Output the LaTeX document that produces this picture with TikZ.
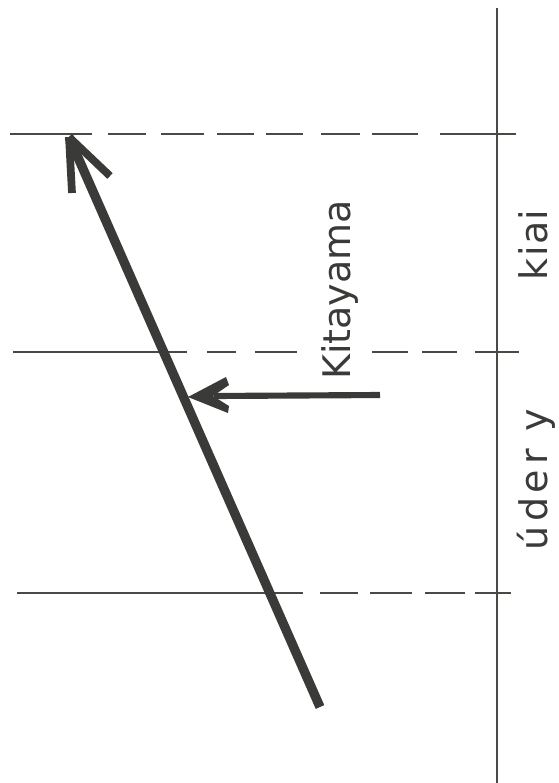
\documentclass[tikz,border=0pt]{standalone}
\usepackage{fontspec}
\setmainfont{DejaVu Sans}
\definecolor{inkc}{HTML}{3A3A38}
\definecolor{thinc}{HTML}{4A4946}
\begin{document}
\begin{tikzpicture}[x=0.75pt,y=-0.75pt,
  guide/.style={draw=thinc,line width=2.2pt},
  shaft/.style={draw=inkc,line width=7pt},
  barb/.style={draw=inkc,line width=5.8pt},
  lbl/.style={rotate=90,anchor=base,text=inkc,font=\fontsize{28.5}{28.5}\selectfont}]
\useasboundingbox[fill=white] (0,0) rectangle (559,783);
% vertical axis
\coordinate (vtop) at (497,8);
\coordinate (vbot) at (497,783);
\draw[guide] (vtop) -- (vbot);
% dashed horizontal levels
\foreach \a/\b in {10/92,108/146,161/204,217/254,266/303,321/360,372/418,440/516}
  \draw[guide] (\a,134) -- (\b,134);
\foreach \a/\b in {13/187,207/236,255/297,372/408,422/457,475/519}
  \draw[guide] (\a,352) -- (\b,352);
\foreach \a/\b in {17/303,320/358,370/412,425/465,475/511}
  \draw[guide] (\a,593) -- (\b,593);
% main arrow
\coordinate (start) at (320,707);
\coordinate (tip) at (69,137);
\coordinate (barbL) at (72,193);
\coordinate (barbR) at (110,176);
\draw[shaft] (start) -- (tip);
\draw[barb] (tip) -- (barbL);
\draw[barb] (tip) -- (barbR);
% Kitayama arrow
\coordinate (kstart) at (380,395);
\coordinate (knotch) at (214,396);
\draw[draw=inkc,line width=4.6pt] (kstart) -- (knotch);
\fill[inkc] (188,397) -- (226,377) -- (229,385) -- (213,396) -- (229,406) -- (228,413) -- cycle;
% labels
\node[lbl] (kit) at (350,290) {Kitayama};
\node[lbl] (kiai) at (547,245) {k\hspace{1pt}i\hspace{1pt}a\hspace{1pt}i};
\node[lbl] (udery) at (547,480) {ú\hspace{3.5pt}d\hspace{3.5pt}e\hspace{3.5pt}r\hspace{4pt} y};
\end{tikzpicture}
\end{document}
